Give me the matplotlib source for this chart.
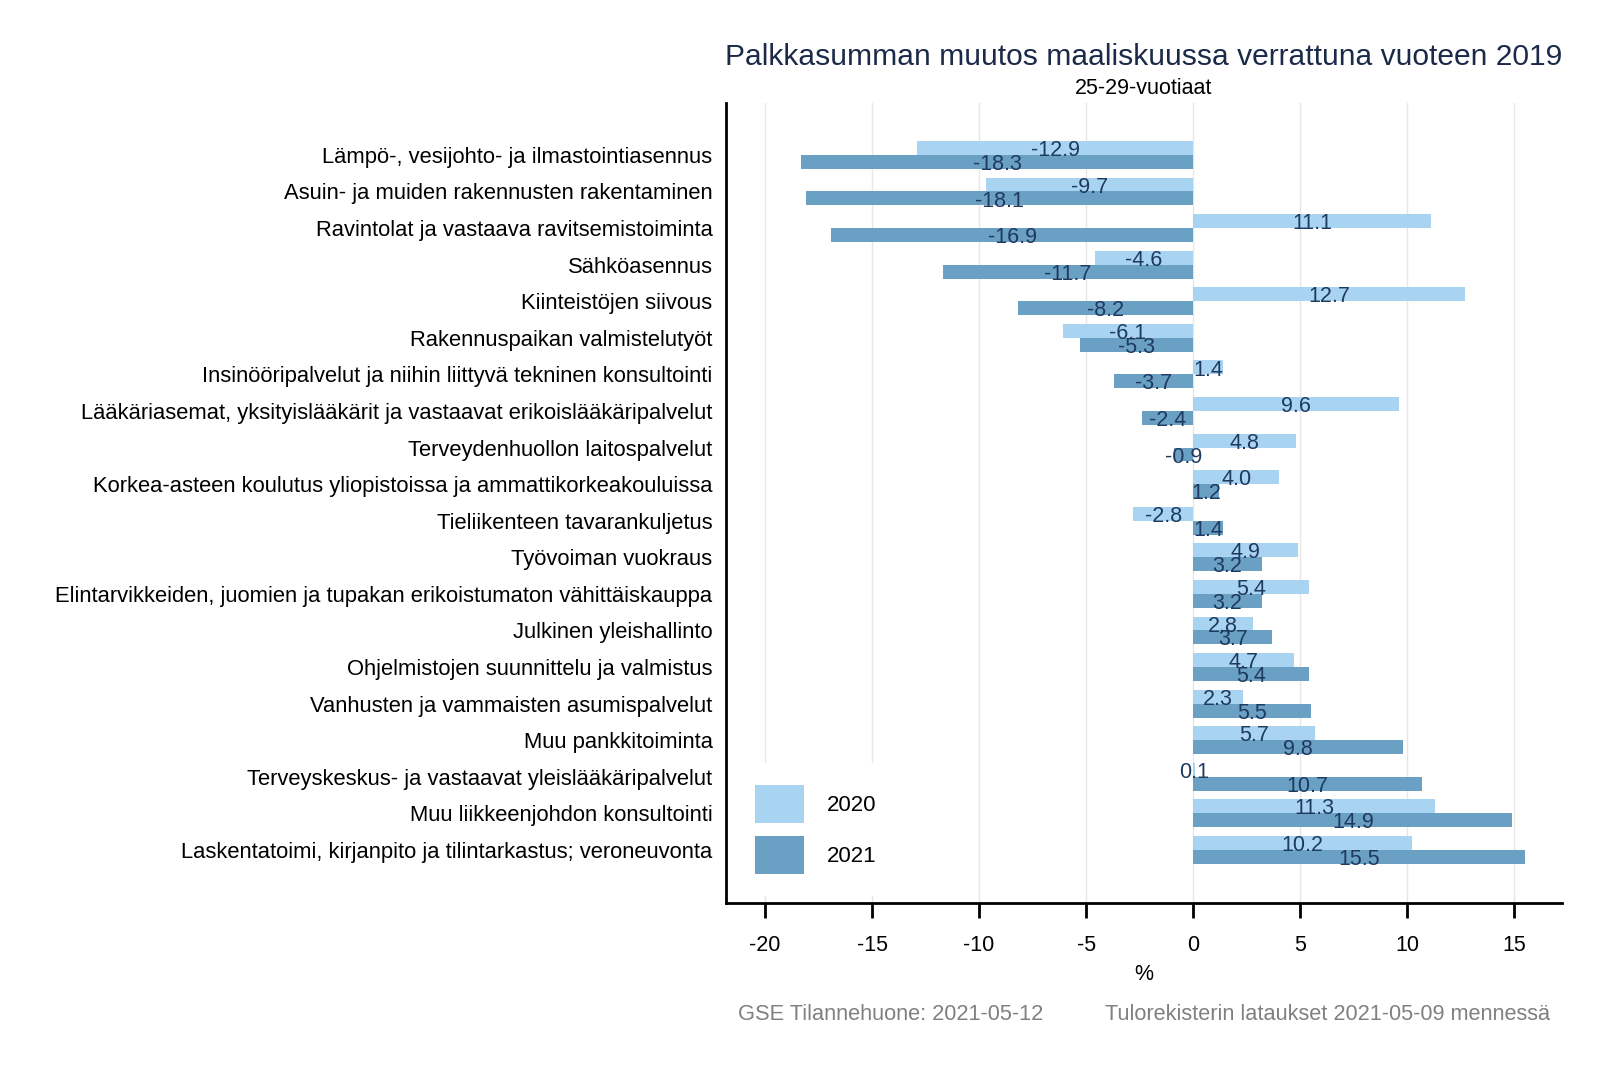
import numpy as np
import matplotlib
matplotlib.use('Agg')
import matplotlib.pyplot as plt
from matplotlib.patches import Patch

plt.rcParams['font.family'] = ['Liberation Sans', 'DejaVu Sans']

# Data, top to bottom
categories = [
    "Lämpö-, vesijohto- ja ilmastointiasennus",
    "Asuin- ja muiden rakennusten rakentaminen",
    "Ravintolat ja vastaava ravitsemistoiminta",
    "Sähköasennus",
    "Kiinteistöjen siivous",
    "Rakennuspaikan valmistelutyöt",
    "Insinööripalvelut ja niihin liittyvä tekninen konsultointi",
    "Lääkäriasemat, yksityislääkärit ja vastaavat erikoislääkäripalvelut",
    "Terveydenhuollon laitospalvelut",
    "Korkea-asteen koulutus yliopistoissa ja ammattikorkeakouluissa",
    "Tieliikenteen tavarankuljetus",
    "Työvoiman vuokraus",
    "Elintarvikkeiden, juomien ja tupakan erikoistumaton vähittäiskauppa",
    "Julkinen yleishallinto",
    "Ohjelmistojen suunnittelu ja valmistus",
    "Vanhusten ja vammaisten asumispalvelut",
    "Muu pankkitoiminta",
    "Terveyskeskus- ja vastaavat yleislääkäripalvelut",
    "Muu liikkeenjohdon konsultointi",
    "Laskentatoimi, kirjanpito ja tilintarkastus; veroneuvonta",
]
values_2020 = [-12.9, -9.7, 11.1, -4.6, 12.7, -6.1, 1.4, 9.6, 4.8, 4.0,
               -2.8, 4.9, 5.4, 2.8, 4.7, 2.3, 5.7, 0.1, 11.3, 10.2]
values_2021 = [-18.3, -18.1, -16.9, -11.7, -8.2, -5.3, -3.7, -2.4, -0.9, 1.2,
               1.4, 3.2, 3.2, 3.7, 5.4, 5.5, 9.8, 10.7, 14.9, 15.5]
series_labels = ["2020", "2021"]
xticks = [-20, -15, -10, -5, 0, 5, 10, 15]

LIGHT = '#a8d3f1'
DARK = '#6aa0c3'
LABEL_COL = '#1e3a5f'
TITLE_COL = '#1b2a49'

fig = plt.figure(figsize=(16, 10.67), dpi=100)
ax = fig.add_axes([0.454, 0.1537, 0.522, 0.7498])

y = np.arange(len(categories))
h = 0.38
ax.barh(y - h / 2, values_2020, height=h, color=LIGHT, zorder=2)
ax.barh(y + h / 2, values_2021, height=h, color=DARK, zorder=2)

for yi, v in zip(y, values_2020):
    ax.text(v / 2, yi - h / 2 + 0.07, f"{v:.1f}", ha='center', va='center',
            fontsize=15.5, color=LABEL_COL, zorder=3)
for yi, v in zip(y, values_2021):
    ax.text(v / 2, yi + h / 2 + 0.07, f"{v:.1f}", ha='center', va='center',
            fontsize=15.5, color=LABEL_COL, zorder=3)

ax.set_xlim(-21.8, 17.2)
ax.set_ylim(20.45, -1.42)
ax.set_yticks(y)
ax.set_yticklabels(categories, fontsize=15.8)
ax.tick_params(axis='y', length=0, pad=10)
ax.set_xticks(xticks)
ax.set_xticklabels([str(t) for t in xticks], fontsize=15.5)
ax.tick_params(axis='x', length=11, width=2, pad=12)
ax.grid(axis='x', color='#e6e6e6', linewidth=1, zorder=0)
ax.set_axisbelow(True)
for s in ['top', 'right']:
    ax.spines[s].set_visible(False)
for s in ['left', 'bottom']:
    ax.spines[s].set_linewidth(2)
ax.set_xlabel('%', fontsize=15.5, labelpad=6)

handles = [Patch(facecolor=LIGHT), Patch(facecolor=DARK)]
leg = ax.legend(handles, series_labels, loc='lower left', fontsize=16,
                frameon=True, facecolor='white', edgecolor='none', framealpha=1,
                handlelength=2.2, handleheight=2.25, labelspacing=0.6,
                handletextpad=1.0, borderpad=1.0, borderaxespad=0.3)
leg.get_frame().set_boxstyle('square', pad=0)
leg.set_zorder(5)

cx = 0.454 + 0.522 / 2
fig.text(cx, 0.947, "Palkkasumman muutos maaliskuussa verrattuna vuoteen 2019",
         ha='center', va='center', fontsize=21.6, color=TITLE_COL)
fig.text(cx, 0.917, "25-29-vuotiaat", ha='center', va='center', fontsize=15.5,
         color='black')

fig.text(0.461, 0.049, "GSE Tilannehuone: 2021-05-12", ha='left', va='center',
         fontsize=15.7, color='#808080')
fig.text(0.969, 0.049, "Tulorekisterin lataukset 2021-05-09 mennessä", ha='right',
         va='center', fontsize=15.7, color='#808080')

fig.savefig('out.png', dpi=100, facecolor='white')
